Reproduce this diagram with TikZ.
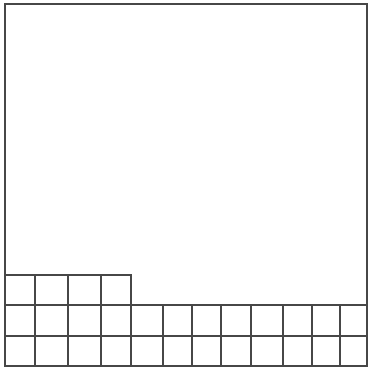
\documentclass[tikz,border=0pt]{standalone}
\begin{document}
\begin{tikzpicture}[x=1pt,y=-1pt,line width=2pt,
  gridline/.style={draw=black!72,line cap=rect}]
\useasboundingbox (0,0) rectangle (369,369);
% outer square
\draw[gridline] (5,4) rectangle (367,366);
% full rows horizontal lines
\draw[gridline] (5,335.5) -- (367,335.5);
\draw[gridline] (5,304.5) -- (367,304.5);
% partial row top and right
\draw[gridline] (5,275) -- (131,275) -- (131,304.5);
% vertical lines in full rows
\foreach \x in {35,68,101,131,163,192,221,251,283,312,340}
  \draw[gridline] (\x,304.5) -- (\x,366);
% vertical lines in partial row
\foreach \x in {35,68,101}
  \draw[gridline] (\x,275) -- (\x,304.5);
\end{tikzpicture}
\end{document}
